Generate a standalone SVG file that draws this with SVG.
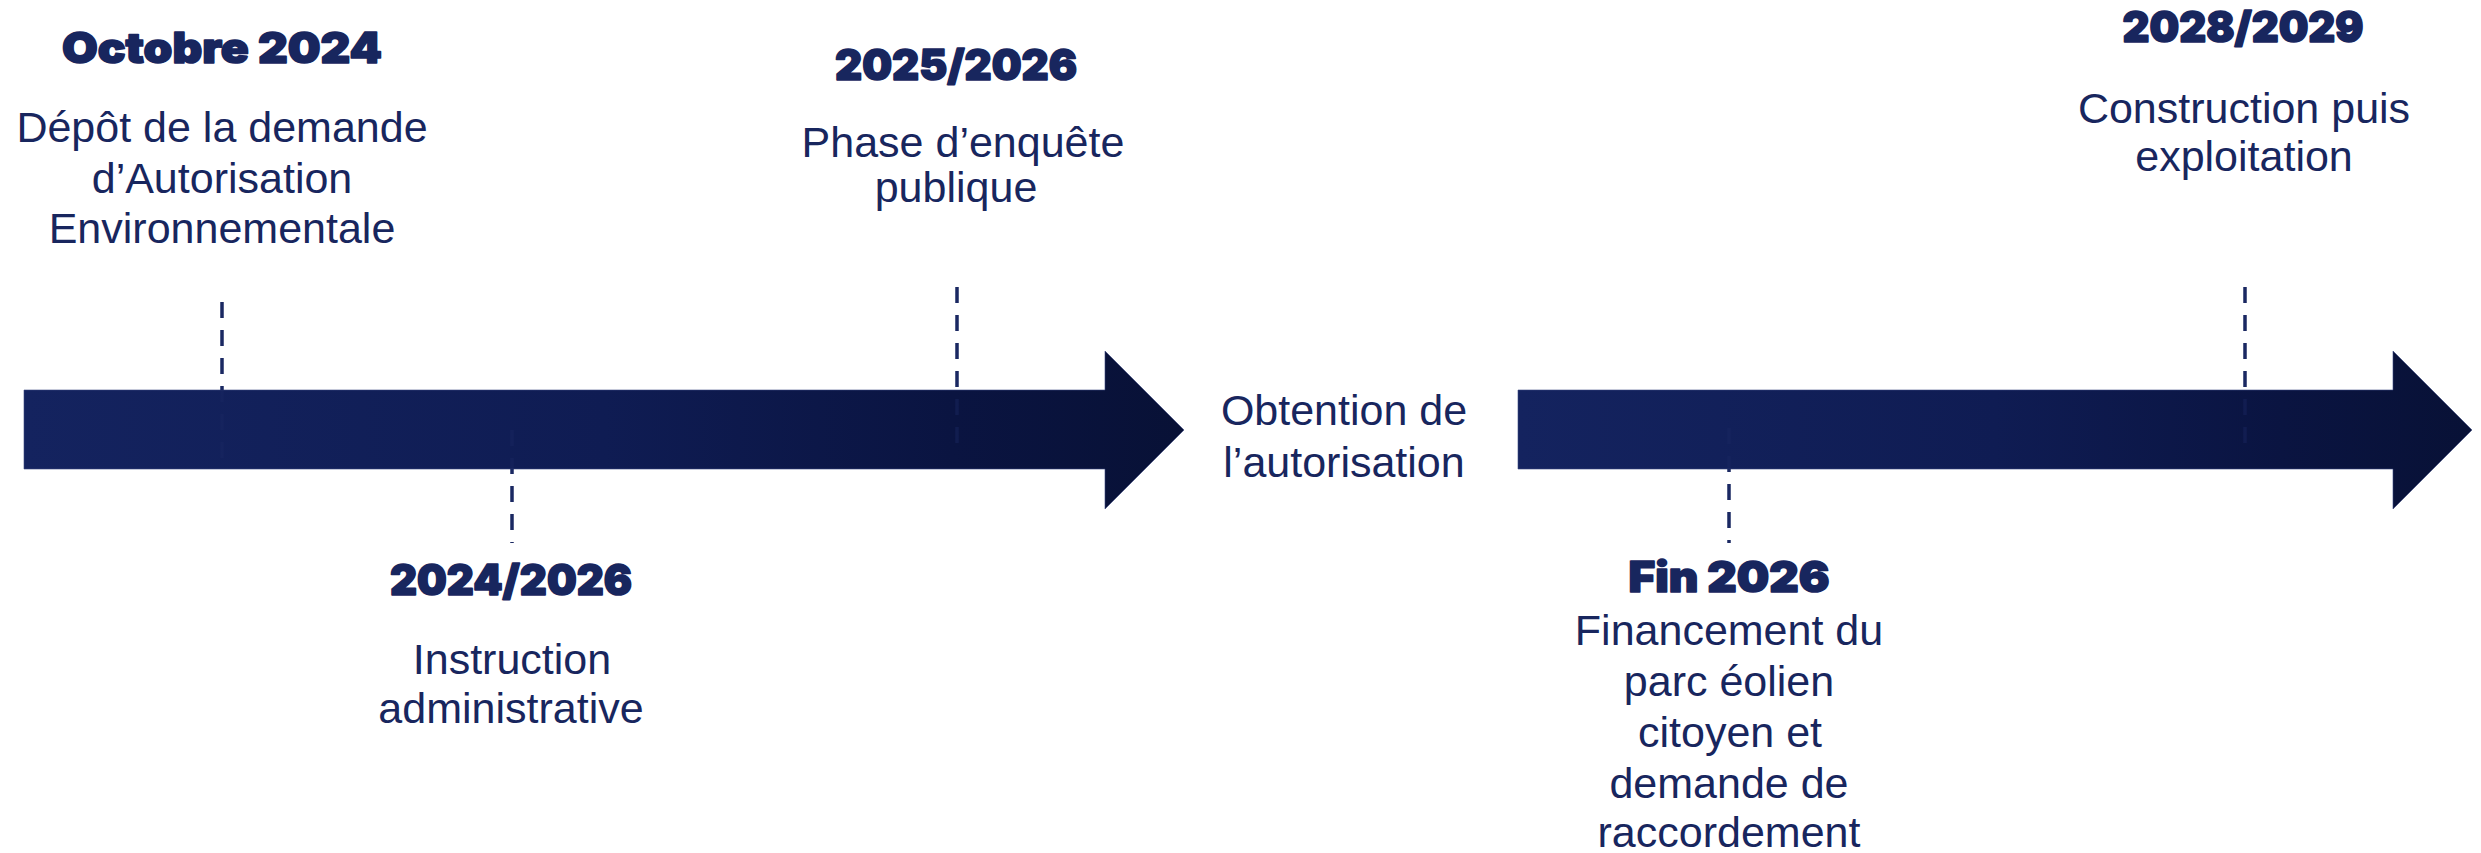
<svg xmlns="http://www.w3.org/2000/svg" width="2481" height="853" viewBox="0 0 2481 853">
  <defs>
    <linearGradient id="arrowGrad" x1="0" y1="0" x2="1" y2="0">
      <stop offset="0" stop-color="#14235f"/>
      <stop offset="0.5" stop-color="#0f1c53"/>
      <stop offset="0.8" stop-color="#0a1441"/>
      <stop offset="1" stop-color="#081136"/>
    </linearGradient>
  </defs>
  <style>
    .arrow { fill: url(#arrowGrad); stroke: #3a4780; stroke-width: 1; stroke-opacity: 0.6; }
    .dash { stroke: #1a2862; stroke-width: 3.5; stroke-dasharray: 16 12; fill: none; }
    .dash-in { opacity: 0.45; }
    .title { font-family: Inter, "DejaVu Sans", sans-serif; font-weight: 900; font-size: 42px; fill: #18265e; stroke: #18265e; stroke-width: 1.6; stroke-linejoin: round; text-anchor: middle; }
    .body { font-family: "Liberation Sans", Arial, sans-serif; font-size: 43px; fill: #18265e; text-anchor: middle; }
  </style>

  <g id="arrows">
    <path id="arrow-left" class="arrow" d="M24,390 H1105 V351 L1184,430 L1105,509 V469 H24 Z"/>
    <path id="arrow-right" class="arrow" d="M1518,390 H2393 V351 L2472,430 L2393,509 V469 H1518 Z"/>
  </g>

  <g id="connectors">
    <line class="dash" x1="222" y1="302" x2="222" y2="390"/>
    <line class="dash dash-in" x1="222" y1="390" x2="222" y2="458" stroke-dashoffset="4"/>
    <line class="dash dash-in" x1="512" y1="430" x2="512" y2="469"/>
    <line class="dash" x1="512" y1="469" x2="512" y2="543" stroke-dashoffset="11"/>
    <line class="dash" x1="957" y1="287" x2="957" y2="390"/>
    <line class="dash dash-in" x1="957" y1="390" x2="957" y2="443" stroke-dashoffset="19"/>
    <line class="dash dash-in" x1="1729" y1="428" x2="1729" y2="469"/>
    <line class="dash" x1="1729" y1="469" x2="1729" y2="543" stroke-dashoffset="13"/>
    <line class="dash" x1="2245" y1="287" x2="2245" y2="390"/>
    <line class="dash dash-in" x1="2245" y1="390" x2="2245" y2="443" stroke-dashoffset="19"/>
  </g>

  <g id="node-octobre-2024">
    <text class="title" x="222" y="63" textLength="320" lengthAdjust="spacingAndGlyphs">Octobre 2024</text>
    <text class="body" x="222" y="142">Dépôt de la demande</text>
    <text class="body" x="222" y="193">d’Autorisation</text>
    <text class="body" x="222" y="243">Environnementale</text>
  </g>

  <g id="node-2024-2026">
    <text class="title" x="511" y="595" textLength="242" lengthAdjust="spacingAndGlyphs">2024/2026</text>
    <text class="body" x="512" y="674">Instruction</text>
    <text class="body" x="511" y="723">administrative</text>
  </g>

  <g id="node-2025-2026">
    <text class="title" x="956" y="80" textLength="242" lengthAdjust="spacingAndGlyphs">2025/2026</text>
    <text class="body" x="963" y="157">Phase d’enquête</text>
    <text class="body" x="956" y="202">publique</text>
  </g>

  <g id="node-obtention">
    <text class="body" x="1344" y="425">Obtention de</text>
    <text class="body" x="1344" y="477">l’autorisation</text>
  </g>

  <g id="node-fin-2026">
    <text class="title" x="1729" y="592" textLength="201" lengthAdjust="spacingAndGlyphs">Fin 2026</text>
    <text class="body" x="1729" y="645">Financement du</text>
    <text class="body" x="1729" y="696">parc éolien</text>
    <text class="body" x="1730" y="747">citoyen et</text>
    <text class="body" x="1729" y="798">demande de</text>
    <text class="body" x="1729" y="847">raccordement</text>
  </g>

  <g id="node-2028-2029">
    <text class="title" x="2243" y="42" textLength="241" lengthAdjust="spacingAndGlyphs">2028/2029</text>
    <text class="body" x="2244" y="123">Construction puis</text>
    <text class="body" x="2244" y="171">exploitation</text>
  </g>
</svg>
